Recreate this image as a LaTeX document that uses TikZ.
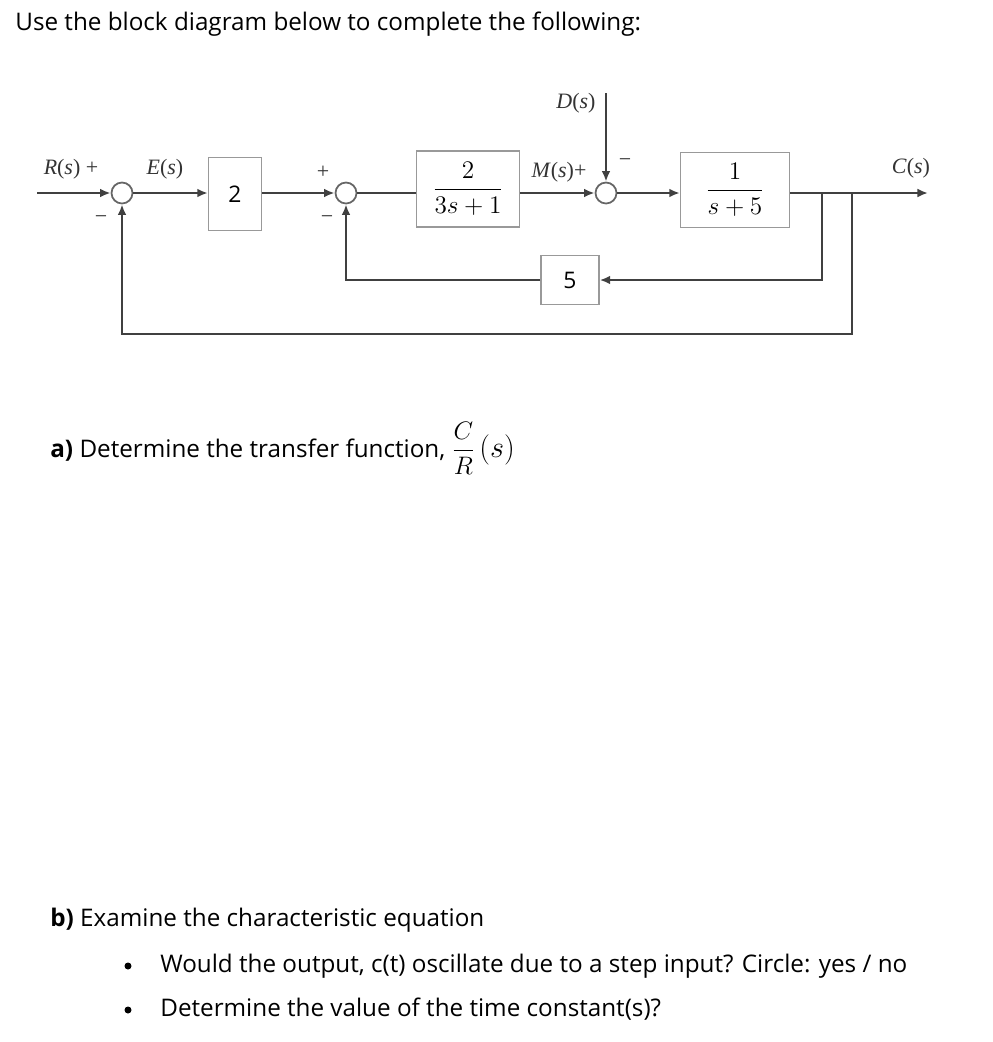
\documentclass[tikz,border=0pt]{standalone}
\usepackage{amsmath}
\usepackage{fontspec}
\setmainfont{Open Sans}
\newfontfamily\sigfont{Liberation Serif}
\usetikzlibrary{positioning,arrows.meta}

\begin{document}
\begin{tikzpicture}[x=0.02cm, y=-0.02cm,
      sig/.style = {draw=black!75, line width=1.5pt},
      arr/.style = {sig, -{Latex[length=6pt,width=5pt]}},
      blk/.style = {draw=black!40, line width=0.8pt, fill=white, inner sep=0pt},
      sumj/.style = {circle, draw=black!60, line width=1pt, fill=white,
                     minimum size=0.42cm, inner sep=0pt},
      lbl/.style = {inner sep=0pt, text=black!80, font=\sigfont\fontsize{12.5}{14}\selectfont},
      txt/.style = {anchor=base west, inner sep=0pt, font=\fontsize{13.8}{16}\selectfont}
      ]
      \useasboundingbox (0,0) rectangle (993,1042);

      % text
      \node[txt] (head) at (15,30) {Use the block diagram below to complete the following:};
      \node[txt] (qa) at (50,457) {\textbf{a)} Determine the transfer function,
            $\dfrac{C}{R}$\,{\fontsize{19}{20}\selectfont$(s)$}};
      \node[txt] (qb) at (50,926) {\textbf{b)} Examine the characteristic equation};
      \node[txt] (qb1) at (160,972) {Would the output, c(t) oscillate due to a step input? Circle: yes / no};
      \node[txt] (qb2) at (160,1016) {Determine the value of the time constant(s)?};
      \fill (128,966) circle (3.5);
      \fill (128,1010) circle (3.5);

      % blocks and junctions
      \node[sumj] (sumA) at (122,193) {};
      \node[blk, minimum width=1.06cm, minimum height=1.46cm,
            font=\fontsize{13}{15}\selectfont] (gain) at (235,194) {2};
      \node[sumj] (sumB) at (346,193) {};
      \node[blk, minimum width=2.06cm, minimum height=1.52cm,
            font=\fontsize{14.5}{16}\selectfont] (plantA) at (468,189) {$\dfrac{2}{3s+1}$};
      \node[sumj] (sumD) at (606,193) {};
      \node[blk, minimum width=2.18cm, minimum height=1.5cm,
            font=\fontsize{14.5}{16}\selectfont] (plantB) at (735,190) {$\dfrac{1}{s+5}$};
      \node[blk, minimum width=1.16cm, minimum height=0.98cm,
            font=\fontsize{13}{15}\selectfont] (fbk) at (570,280) {5};

      \coordinate (in) at (37,193);
      \coordinate (out) at (928,193);
      \coordinate (dist) at (606,93);
      \coordinate (brA) at (822,193);
      \coordinate (brB) at (852,193);

      % forward path
      \draw[arr] (in) -- (sumA);
      \draw[arr] (sumA) -- (sumA -| gain.west);
      \draw[arr] (gain.east |- sumB) -- (sumB);
      \draw[sig] (sumB) -- (sumB -| plantA.west);
      \draw[arr] (plantA.east |- sumD) -- (sumD);
      \draw[arr] (dist) -- (sumD);
      \draw[arr] (sumD) -- (sumD -| plantB.west);
      \draw[arr] (plantB.east |- out) -- (out);

      % feedback loops
      \draw[arr] (brA) |- (fbk.east);
      \draw[arr] (fbk.west) -| (sumB);
      \draw[arr] (brB) -- (852,334) -| (sumA);

      % labels
      \node[lbl] (lR) at (71,169) {\textit{R}(\textit{s}) +};
      \node[lbl] (lE) at (165,169) {\textit{E}(\textit{s})};
      \node[lbl] (lAm) at (101,220) {−};
      \node[lbl] (lBp) at (323,172) {+};
      \node[lbl] (lBm) at (327,220) {−};
      \node[lbl] (lD) at (576,103) {\textit{D}(\textit{s})};
      \node[lbl] (lM) at (559,172) {\textit{M}(\textit{s})+};
      \node[lbl] (lDm) at (625,163) {−};
      \node[lbl] (lC) at (911,168) {\textit{C}(\textit{s})};
\end{tikzpicture}
\end{document}
